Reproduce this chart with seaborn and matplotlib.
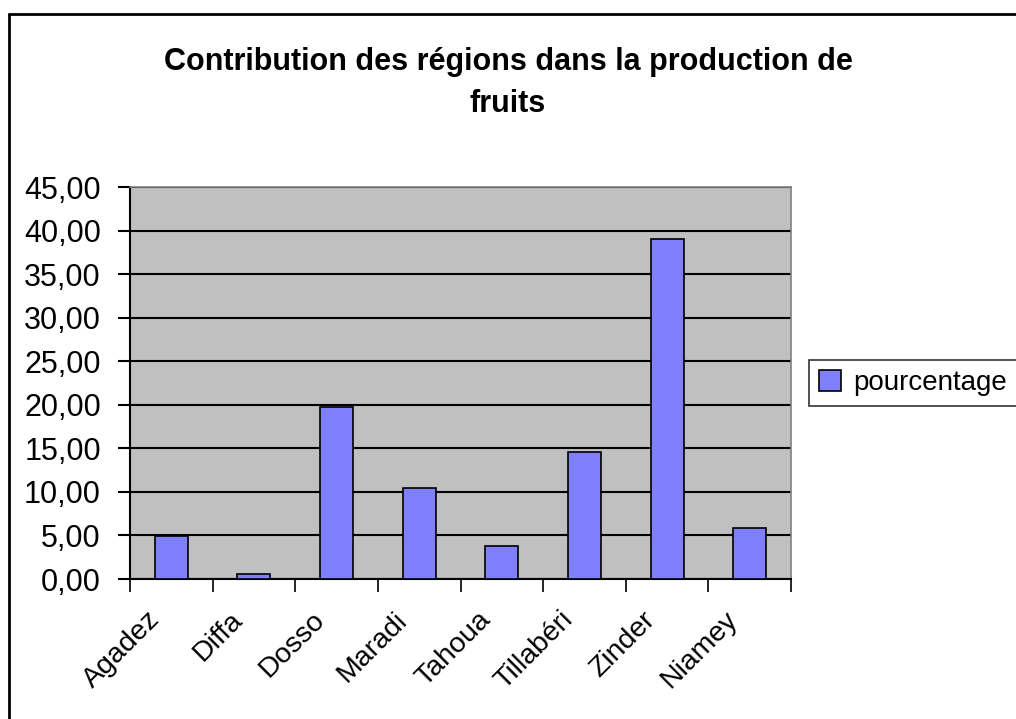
import matplotlib
matplotlib.use("Agg")
import matplotlib.pyplot as plt
import seaborn as sns
from matplotlib.ticker import FuncFormatter, MultipleLocator, FixedLocator
from matplotlib.lines import Line2D

# --- data ---
regions = ["Agadez", "Diffa", "Dosso", "Maradi", "Tahoua", "Tillabéri", "Zinder", "Niamey"]
pourcentage = [4.95, 0.6, 19.7, 10.5, 3.8, 14.6, 39.0, 5.9]
serie_label = "pourcentage"
title = "Contribution des régions dans la production de\nfruits"

sns.set_style("white")
plt.rcParams['font.family'] = ['Liberation Sans', 'DejaVu Sans']
plt.rcParams['text.color'] = 'black'
plt.rcParams['xtick.color'] = 'black'
plt.rcParams['ytick.color'] = 'black'

fig = plt.figure(figsize=(10.16, 7.19), dpi=100)
ax = fig.add_axes([0.128, 0.1947, 0.6505, 0.5452])

# --- bars ---
sns.barplot(x=regions, y=pourcentage, color="#8080FF", width=0.4,
            edgecolor="black", linewidth=1.2, saturation=1, label=serie_label,
            ax=ax, zorder=3)

ax.set_facecolor("#C0C0C0")
ax.set_xlim(-0.5, len(regions) - 0.5)
ax.set_ylim(0, 45)
ax.yaxis.set_major_locator(MultipleLocator(5))
ax.yaxis.set_major_formatter(FuncFormatter(lambda v, p: f"{v:.2f}".replace(".", ",")))
ax.grid(axis="y", color="black", linewidth=1.5, zorder=1)
ax.set_axisbelow(True)

for side in ["top", "right"]:
    ax.spines[side].set_color("#808080")
    ax.spines[side].set_linewidth(1.2)
for side in ["left", "bottom"]:
    ax.spines[side].set_color("black")
    ax.spines[side].set_linewidth(1.5)

# x ticks on category boundaries, labels slanted under each category
ax.xaxis.set_major_locator(FixedLocator([i - 0.5 for i in range(len(regions) + 1)]))
ax.xaxis.set_major_formatter(FuncFormatter(lambda v, p: ""))
ax.tick_params(axis="x", which="major", direction="out", length=9, width=1.2, color="black", bottom=True)
ax.tick_params(axis="y", direction="out", length=9, width=1.5, color="black", left=True,
               labelsize=22, pad=12)
for i, name in enumerate(regions):
    ax.annotate(name, xy=(i - 0.3, 0), xycoords=("data", "axes fraction"),
                xytext=(0, -20), textcoords="offset points",
                rotation=45, ha="right", va="top", rotation_mode="anchor", fontsize=20.5)

ax.set_xlabel("")
ax.set_ylabel("")

# --- title ---
fig.text(0.5, 0.935, title, ha="center", va="top", fontsize=22, fontweight="bold",
         linespacing=1.55)

# --- legend ---
leg = ax.legend(loc="center left", bbox_to_anchor=(1.027, 0.5), frameon=True, fontsize=20,
                handlelength=0.8, handleheight=0.8, handletextpad=0.45, borderpad=0.35,
                fancybox=False, borderaxespad=0)
leg.get_frame().set_edgecolor("black")
leg.get_frame().set_linewidth(1.2)

# outer chart border (only left and top visible in the reference)
fig.add_artist(Line2D([9 / 1016, 9 / 1016], [0, 1 - 14 / 719], transform=fig.transFigure,
                      color="black", linewidth=2))
fig.add_artist(Line2D([9 / 1016, 1], [1 - 14 / 719, 1 - 14 / 719], transform=fig.transFigure,
                      color="black", linewidth=2))

fig.savefig("out.png", dpi=100)
